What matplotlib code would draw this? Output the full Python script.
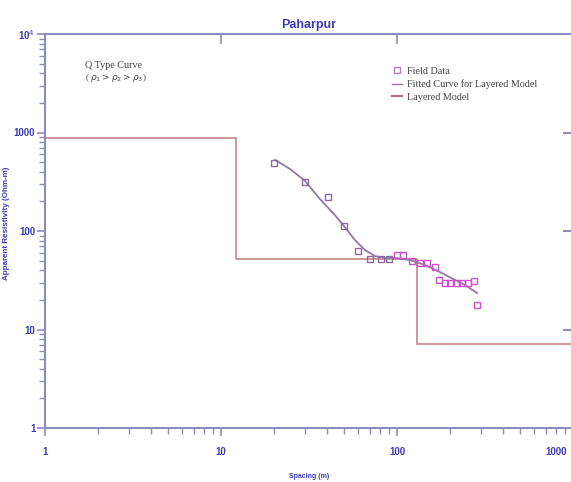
import numpy as np
import matplotlib.pyplot as plt
import matplotlib.transforms as mtransforms
from matplotlib.lines import Line2D

# field data (spacing in m, apparent resistivity in Ohm-m)
field_ab = [20, 30, 40.5, 50, 60, 70, 81, 90]
field_rho = [490, 314, 221, 112, 63, 52, 52, 52]
field2_ab = [100, 108, 122, 135, 148, 164, 173, 187, 200, 219, 234, 253, 274, 285]
field2_rho = [57, 57, 50, 47, 47, 43, 32, 30, 30, 30, 30, 30, 31, 17.7]

# fitted curve
fit_ab = [20.3, 24.7, 30, 36.5, 44.4, 50, 57.7, 65.8, 75, 85.5, 97.4, 118.5, 144, 175, 214, 243, 285]
fit_rho = [526, 426, 322, 211, 145, 112, 81, 64, 55.7, 53.2, 53.2, 50.8, 45.2, 38.4, 31.8, 28.3, 23.5]

# layered model (step)
layer_depth = [1, 12.2, 130, 1200]
layer_rho = [880, 52, 7.1]

xticks = [1, 10, 100, 1000]
xticklabels = ['1', '10', '100', '1000']
yticks = [1, 10, 100, 1000, 1e4]
yticklabels = ['1', '10', '100', '1000', r'10$^4$']

blue = '#3b3bb8'
axcol = '#8c8cc0'
tickfont = 'Liberation Sans'

fig = plt.figure(figsize=(5.71, 4.82), dpi=100)
ax = fig.add_axes([45/571, 54/482, 528/571, 394/482])

# layered model as step line
xs = []
ys = []
for i in range(len(layer_rho)):
    xs += [layer_depth[i], layer_depth[i+1]]
    ys += [layer_rho[i], layer_rho[i]]
ax.plot(xs, ys, color='#c89094', lw=1.3, zorder=2)

ax.plot(fit_ab, fit_rho, color='#9478a8', lw=1.3, zorder=3)
ax.plot(field_ab, field_rho, 's', ms=4, mfc='none', mec='#8a6a9a', mew=1.0, zorder=4)
ax.plot(field2_ab, field2_rho, 's', ms=4, mfc='none', mec='#d050d0', mew=1.0, zorder=4)

ax.set_xscale('log')
ax.set_yscale('log')
ax.set_xlim(1, 1000)
ax.set_ylim(1, 1e4)

for s in ax.spines.values():
    s.set_color(axcol)
    s.set_linewidth(1.5)
ax.spines['right'].set_visible(False)

ax.set_xticks(xticks)
# last label sits at the figure edge, so draw it separately, pulled inside
ax.set_xticklabels(xticklabels[:-1] + [''], color=blue, fontsize=7,
                   fontweight='bold', family=tickfont)
trans = mtransforms.blended_transform_factory(fig.transFigure, ax.transAxes)
ax.text(567/571, -0.06, xticklabels[-1], transform=trans, ha='right', va='center',
        color=blue, fontsize=7, fontweight='bold', family=tickfont)
ax.set_yticks(yticks)
ax.set_yticklabels(yticklabels, color=blue, fontsize=7,
                   fontweight='bold', family=tickfont)
ax.tick_params(which='major', direction='out', length=6, width=1.2, color=axcol)
ax.tick_params(axis='x', which='major', pad=8)
ax.tick_params(axis='y', which='major', pad=1)
ax.tick_params(which='minor', direction='out', length=4, width=1.0, color=axcol)
ax.tick_params(axis='both', which='minor', labelleft=False, labelbottom=False)

# inward major ticks on top and right
top = ax.secondary_xaxis('top')
top.set_xticks([10, 100])
top.tick_params(direction='in', length=7, width=1.2, color=axcol, labeltop=False)
top.xaxis.set_minor_locator(plt.NullLocator())
top.spines['top'].set_visible(False)
right = ax.secondary_yaxis('right')
right.set_yticks([10, 100, 1000])
right.tick_params(direction='in', length=7, width=1.5, color=axcol, labelright=False)
right.yaxis.set_minor_locator(plt.NullLocator())
right.spines['right'].set_visible(False)

ax.set_xlabel('Spacing (m)', color=blue, fontsize=5, fontweight='bold', family=tickfont)
ax.xaxis.set_label_coords(0.5, -0.115)
ax.set_ylabel('Apparent Resistivity (Ohm-m)', color=blue, fontsize=5.8, fontweight='bold',
              family=tickfont)
ax.yaxis.set_label_coords(-0.066, 0.52)
ax.set_title('Paharpur', color=blue, fontsize=9, fontweight='bold', family=tickfont, pad=4)

ax.text(0.075, 0.919, 'Q Type Curve', transform=ax.transAxes, fontsize=7.3,
        family='Liberation Serif', color='#444444', va='center')
ax.text(0.075, 0.888, r'( $\rho_1 > \rho_2 > \rho_3$)', transform=ax.transAxes, fontsize=6.5,
        family='Liberation Serif', color='#444444', va='center')

handles = [Line2D([], [], ls='none', marker='s', ms=4, mfc='none', mec='#b080c0'),
           Line2D([], [], color='#9478a8', lw=1),
           Line2D([], [], color='#b07080', lw=1.5, drawstyle='steps')]
leg = ax.legend(handles, ['Field Data', 'Fitted Curve for Layered Model', 'Layered Model'],
                loc='upper left', bbox_to_anchor=(0.64, 0.94), frameon=False,
                handlelength=1.0, handletextpad=0.5, labelspacing=0.35,
                prop={'family': 'Liberation Serif', 'size': 7.3})
for t in leg.get_texts():
    t.set_color('#444444')

fig.savefig('out.png', dpi=100)
